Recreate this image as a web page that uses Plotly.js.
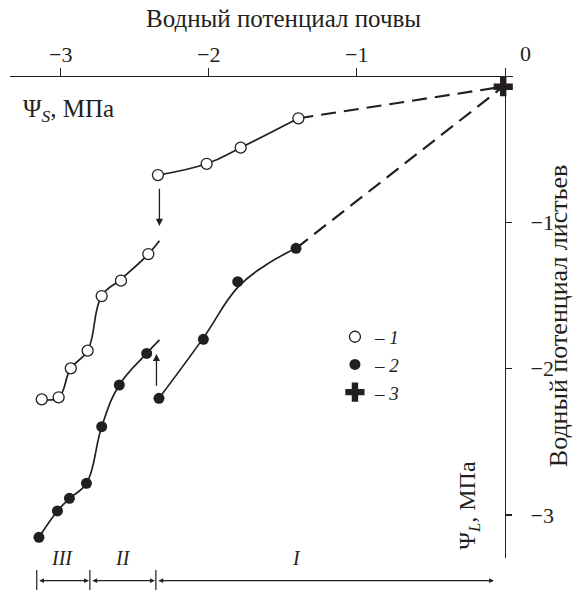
<!DOCTYPE html>
<html>
<head>
<meta charset="utf-8">
<script src="https://cdn.plot.ly/plotly-3.0.1.min.js"></script>
<style>html,body{margin:0;padding:0;background:#fff;}#chart{width:575px;height:590px;}</style>
</head>
<body>
<div id="chart"></div>
<script>
// ---- Data, soil potential x / leaf potential y, MPa ----
// Series 1 (open circles), stage I
const open1X = [-2.343, -2.014, -1.784, -1.394];
const open1Y = [-0.677, -0.600, -0.490, -0.289];
// Series 1 (open circles), stages II–III
const open2X = [-3.128, -3.014, -2.932, -2.818, -2.723, -2.593, -2.408];
const open2Y = [-2.210, -2.196, -1.998, -1.877, -1.504, -1.399, -1.217];
// Smooth fitted curve for series 1, stages II–III
const open2CurveX = [-3.128, -3.014, -2.932, -2.818, -2.723, -2.593, -2.408, -2.333];
const open2CurveY = [-2.210, -2.196, -1.998, -1.877, -1.504, -1.390, -1.217, -1.126];
// Series 2 (filled circles), stage I
const filled1X = [-2.336, -2.036, -1.804, -1.410];
const filled1Y = [-2.203, -1.800, -1.406, -1.178];
// Smooth fitted curve for series 2, stage I
const filled1CurveX = [-2.336, -2.036, -1.804, -1.611, -1.410];
const filled1CurveY = [-2.203, -1.790, -1.445, -1.290, -1.178];
// Series 2 (filled circles), stages II–III
const filled2X = [-3.147, -3.022, -2.941, -2.826, -2.723, -2.604, -2.419];
const filled2Y = [-3.153, -2.973, -2.887, -2.784, -2.397, -2.112, -1.896];
// Smooth fitted curve for series 2, stages II–III
const filled2CurveX = [-3.147, -3.022, -2.941, -2.826, -2.723, -2.604, -2.419, -2.333];
const filled2CurveY = [-3.153, -2.973, -2.887, -2.784, -2.397, -2.112, -1.896, -1.804];
// Series 3 (cross)
const crossX = [-0.01];
const crossY = [-0.073];
// Stage boundaries on the soil-potential axis and stage labels
const stageEdges = [-3.162, -2.803, -2.357, -0.066];
const stageLabels = ['III', 'II', 'I'];
const stageLabelX = [-2.99, -2.579, -1.41];
// Tick values
const xTicks = [-3, -2, -1];
const yTicks = [-1, -2, -3];
const legendNames = ['– <i>1</i>', '– <i>2</i>', '– <i>3</i>'];

const FONT = '"Liberation Serif", "Times New Roman", serif';
const INK = '#231f20';

const solid = {color: INK, width: 1.7, shape: 'spline', smoothing: 1.2};
const dashed = {color: INK, width: 2.2, dash: '15px,8px'};

const traces = [
  {x: open1X, y: open1Y, mode: 'lines', line: solid, showlegend: false, hoverinfo: 'skip'},
  {x: open2CurveX, y: open2CurveY, mode: 'lines', line: solid, showlegend: false, hoverinfo: 'skip'},
  {x: filled1CurveX, y: filled1CurveY, mode: 'lines', line: solid, showlegend: false, hoverinfo: 'skip'},
  {x: filled2CurveX, y: filled2CurveY, mode: 'lines', line: solid, showlegend: false, hoverinfo: 'skip'},
  {x: [open1X[open1X.length - 1], crossX[0]], y: [open1Y[open1Y.length - 1], crossY[0]], mode: 'lines', line: dashed, showlegend: false, hoverinfo: 'skip'},
  {x: [filled1X[filled1X.length - 1], crossX[0]], y: [filled1Y[filled1Y.length - 1], crossY[0]], mode: 'lines', line: dashed, showlegend: false, hoverinfo: 'skip'},
  {x: open1X.concat(open2X), y: open1Y.concat(open2Y), mode: 'markers', name: legendNames[0], cliponaxis: false,
   marker: {symbol: 'circle', size: 11, color: '#ffffff', line: {color: INK, width: 1.3}}},
  {x: filled1X.concat(filled2X), y: filled1Y.concat(filled2Y), mode: 'markers', name: legendNames[1], cliponaxis: false,
   marker: {symbol: 'circle', size: 11, color: INK, line: {color: INK, width: 0}}},
  {x: crossX, y: crossY, mode: 'markers', name: legendNames[2], cliponaxis: false,
   marker: {symbol: 'cross', size: 16, color: INK, line: {width: 0}}}
];

const annotations = [
  {text: 'Водный потенциал почвы', xref: 'paper', yref: 'paper', x: 0.543, y: 1.102, showarrow: false,
   font: {family: FONT, size: 25, color: INK}, xanchor: 'center', yanchor: 'middle'},
  {text: '0', xref: 'paper', yref: 'paper', x: 1.024, y: 1.029, showarrow: false,
   font: {family: FONT, size: 22, color: INK}, xanchor: 'center', yanchor: 'middle'},
  {text: 'Ψ<sub><i>S</i></sub>, МПа', xref: 'paper', yref: 'paper', x: 0.022, y: 0.914, showarrow: false,
   font: {family: FONT, size: 25, color: INK}, xanchor: 'left', yanchor: 'middle'},
  {text: 'Водный потенциал листьев', xref: 'paper', yref: 'paper', x: 1.092, y: 0.494, showarrow: false, textangle: -90,
   font: {family: FONT, size: 26, color: INK}, xanchor: 'center', yanchor: 'middle'},
  {text: 'Ψ<sub><i>L</i></sub>, МПа', xref: 'paper', yref: 'paper', x: 0.912, y: 0.108, showarrow: false, textangle: -90,
   font: {family: FONT, size: 24, color: INK}, xanchor: 'center', yanchor: 'middle'},
  // vertical arrows in the plot
  {xref: 'x', yref: 'y', axref: 'x', ayref: 'y', x: -2.333, y: -1.025, ax: -2.333, ay: -0.761, text: '',
   showarrow: true, arrowhead: 2, arrowsize: 1.1, arrowwidth: 1.3, arrowcolor: INK, standoff: 0},
  {xref: 'x', yref: 'y', axref: 'x', ayref: 'y', x: -2.353, y: -1.90, ax: -2.353, ay: -2.128, text: '',
   showarrow: true, arrowhead: 2, arrowsize: 1.1, arrowwidth: 1.3, arrowcolor: INK, standoff: 0}
];

const shapes = [];
for (let i = 0; i < stageLabels.length; i++) {
  annotations.push({text: '<i>' + stageLabels[i] + '</i>', xref: 'x', yref: 'paper', x: stageLabelX[i], y: 0.0,
    showarrow: false, font: {family: FONT, size: 20, color: INK}, xanchor: 'center', yanchor: 'middle'});
  annotations.push({xref: 'x', yref: 'paper', axref: 'x', ayref: 'pixel', x: stageEdges[i + 1], y: -0.0463,
    ax: stageEdges[i], ay: 0, text: '', showarrow: true, arrowside: 'end+start', arrowhead: 2, startarrowhead: 2,
    arrowsize: 0.8, startarrowsize: 0.8, arrowwidth: 1.2, arrowcolor: INK, standoff: 1, startstandoff: 1});
}
for (let i = 0; i < stageEdges.length - 1; i++) {
  shapes.push({type: 'line', xref: 'x', yref: 'paper', x0: stageEdges[i], x1: stageEdges[i], y0: -0.0245, y1: -0.066,
    line: {color: INK, width: 1.2}});
}

const layout = {
  width: 575, height: 590,
  margin: {l: 10, r: 62, t: 68, b: 32, pad: 0},
  paper_bgcolor: '#ffffff', plot_bgcolor: '#ffffff',
  font: {family: FONT, color: INK, size: 19},
  xaxis: {range: [-3.3426, 0.0561], side: 'top', anchor: 'free', position: 0.9837,
    showline: true, linecolor: INK, linewidth: 1.4, ticks: 'outside', ticklen: 8, tickwidth: 1.4, tickcolor: INK,
    tickvals: xTicks, tickfont: {family: FONT, size: 22, color: INK}, showgrid: false, zeroline: false, ticklabelstandoff: -3},
  yaxis: {range: [-3.2946, 0.0547], side: 'right', anchor: 'free', position: 0.9835,
    showline: true, linecolor: INK, linewidth: 1.4, ticks: 'outside', ticklen: 6, tickwidth: 1.4, tickcolor: INK,
    tickvals: yTicks, tickfont: {family: FONT, size: 22, color: INK}, showgrid: false, zeroline: false, ticklabelstandoff: 14},
  showlegend: true,
  legend: {x: 0.646, y: 0.49, xanchor: 'left', yanchor: 'top', bgcolor: 'rgba(0,0,0,0)',
    font: {family: FONT, size: 19, color: INK}, traceorder: 'normal'},
  annotations: annotations,
  shapes: shapes
};

Plotly.newPlot('chart', traces, layout, {staticPlot: true, displayModeBar: false});
</script>
</body>
</html>
